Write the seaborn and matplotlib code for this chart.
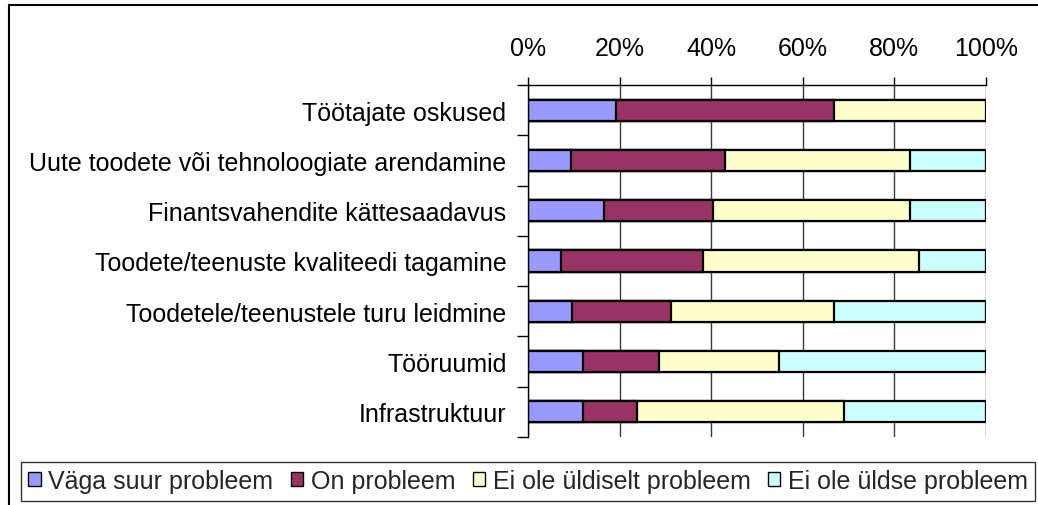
import matplotlib
matplotlib.use("Agg")
import matplotlib.pyplot as plt
import seaborn as sns
import numpy as np
import pandas as pd
from matplotlib.lines import Line2D
from matplotlib.patches import Patch
from matplotlib.ticker import FixedLocator, PercentFormatter

categories = [
    "Töötajate oskused",
    "Uute toodete või tehnoloogiate arendamine",
    "Finantsvahendite kättesaadavus",
    "Toodete/teenuste kvaliteedi tagamine",
    "Toodetele/teenustele turu leidmine",
    "Tööruumid",
    "Infrastruktuur",
]
series_names = ["Väga suur probleem", "On probleem", "Ei ole üldiselt probleem", "Ei ole üldse probleem"]
vaga_suur = [19.2, 9.4, 16.7, 7.3, 9.5, 11.9, 11.9]
on_probleem = [47.6, 33.6, 23.7, 31.0, 21.7, 16.6, 12.0]
ei_uldiselt = [33.2, 40.3, 42.9, 47.1, 35.6, 26.4, 45.0]
ei_uldse = [0.0, 16.7, 16.7, 14.6, 33.2, 45.1, 31.1]
x_ticks = [0, 20, 40, 60, 80, 100]
colors = ["#9999FF", "#993366", "#FFFFCC", "#CCFFFF"]

sns.set_theme(style="white")
plt.rcParams["font.family"] = ["Liberation Sans", "DejaVu Sans"]
FS = 18

fig = plt.figure(figsize=(10.38, 5.06), dpi=100)
ax = fig.add_axes([528/1038, 1-438/506, (986-528)/1038, (438-86)/506])

series = [vaga_suur, on_probleem, ei_uldiselt, ei_uldse]
cum = np.cumsum(np.array(series), axis=0)
for i in range(len(series) - 1, -1, -1):
    df = pd.DataFrame({"cat": categories, "val": cum[i]})
    sns.barplot(data=df, x="val", y="cat", orient="h", color=colors[i],
                width=0.42, edgecolor="black", linewidth=1.6, saturation=1, ax=ax)

ax.set_xlim(0, 100)
ax.set_ylim(len(categories) - 0.5, -0.5)
ax.xaxis.set_major_locator(FixedLocator(x_ticks))
ax.xaxis.set_major_formatter(PercentFormatter(decimals=0))
ax.xaxis.tick_top()
ax.xaxis.set_label_position("top")
ax.set_xlabel("")
ax.set_ylabel("")
ax.grid(axis="x", color="#3a3a3a", linewidth=1)
ax.set_axisbelow(True)
for s in ["bottom", "right"]:
    ax.spines[s].set_visible(False)
for s in ["top", "left"]:
    ax.spines[s].set_visible(True)
    ax.spines[s].set_color("black")
    ax.spines[s].set_linewidth(1)

ax.tick_params(axis="x", which="major", top=True, bottom=False, length=5.8, width=1,
               color="black", direction="out", pad=12, labelsize=FS, labelcolor="black")
ax.tick_params(axis="y", which="major", left=False, length=0, pad=15.5, labelsize=FS, labelcolor="black")
ax.yaxis.set_minor_locator(FixedLocator(np.arange(-0.5, len(categories), 1.0)))
ax.tick_params(axis="y", which="minor", left=True, length=8, width=1, color="black", direction="out")

handles = [Patch(facecolor=c, edgecolor="black", linewidth=1) for c in colors]
leg = fig.legend(handles, series_names, loc="center", ncol=4,
                 bbox_to_anchor=(528/1038, 1-482/506),
                 fontsize=FS, frameon=True, fancybox=False,
                 handlelength=0.5, handleheight=0.5, handletextpad=0.3, columnspacing=0.7,
                 borderaxespad=0, borderpad=0.3)
leg.get_frame().set_edgecolor("black")
leg.get_frame().set_linewidth(1)

fig.add_artist(Line2D([9/1038, 9/1038], [0, 1-6/506], color="black", linewidth=1.5, transform=fig.transFigure))
fig.add_artist(Line2D([9/1038, 1], [1-6/506, 1-6/506], color="black", linewidth=1.5, transform=fig.transFigure))

fig.savefig("out.png", dpi=100, facecolor="white")
